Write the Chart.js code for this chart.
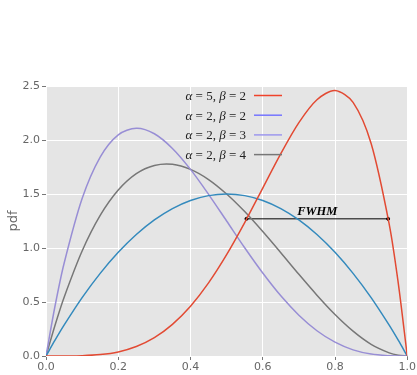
<!DOCTYPE html>
<html>
<head>
<meta charset="utf-8">
<script src="https://cdn.jsdelivr.net/npm/chart.js@4"></script>
<style>
  html, body { margin: 0; padding: 0; background: #fff; }
  #wrap { width: 417px; height: 375px; position: relative; }
</style>
</head>
<body>
<div id="wrap"><canvas id="beta"></canvas></div>
<script>
// x positions the curves were read at
const xs = [0, 0.025, 0.05, 0.1, 0.15, 0.2, 0.25, 0.3, 0.35, 0.4, 0.45, 0.5,
  0.55, 0.6, 0.65, 0.7, 0.75, 0.8, 0.85, 0.9, 0.95, 0.975, 1];

// pdf values
const a5b2 = [0, 0, 0.0002, 0.0027, 0.013, 0.038, 0.088, 0.17, 0.293, 0.461, 0.677, 0.938,
  1.235, 1.555, 1.874, 2.161, 2.373, 2.458, 2.349, 1.968, 1.222, 0.678, 0];
const a2b2 = [0, 0.146, 0.285, 0.54, 0.765, 0.96, 1.125, 1.26, 1.365, 1.44, 1.485, 1.5,
  1.485, 1.44, 1.365, 1.26, 1.125, 0.96, 0.765, 0.54, 0.285, 0.146, 0];
const a2b3 = [0, 0.463, 0.857, 1.458, 1.842, 2.048, 2.109, 2.058, 1.922, 1.728, 1.497, 1.25,
  1.002, 0.768, 0.557, 0.378, 0.234, 0.128, 0.057, 0.018, 0.002, 0.0003, 0];
const a2b4 = [0, 0.285, 0.542, 0.972, 1.301, 1.536, 1.688, 1.764, 1.775, 1.728, 1.634, 1.5,
  1.337, 1.152, 0.956, 0.756, 0.563, 0.384, 0.23, 0.108, 0.029, 0.007, 0];

const labels = [["5", "2"], ["2", "2"], ["2", "3"], ["2", "4"]];
const lineColors = ["#E24A33", "#348ABD", "#988ED5", "#777777"];
const legendColors = ["#F0432A", "#7575FF", "#9D98EE", "#777777"];

// FWHM marker
const fwhmX = [0.555, 0.947];
const fwhmY = 1.27;

const pts = (ys) => xs.map((x, i) => ({ x: x, y: ys[i] }));

const series = [a5b2, a2b2, a2b3, a2b4].map((ys, i) => ({
  data: pts(ys),
  borderColor: lineColors[i],
  borderWidth: 1.5,
  pointRadius: 0,
  tension: 0.3,
  fill: false,
}));

series.push({
  data: fwhmX.map((x) => ({ x: x, y: fwhmY })),
  borderColor: "#000",
  backgroundColor: "#000",
  borderWidth: 1,
  pointRadius: 1.5,
  pointHoverRadius: 1.5,
});

const panel = {
  id: "panel",
  beforeDraw(chart) {
    const { ctx, chartArea: a } = chart;
    ctx.save();
    ctx.fillStyle = "#E5E5E5";
    ctx.fillRect(a.left, a.top, a.right - a.left, a.bottom - a.top);
    ctx.restore();
  },
  afterDatasetsDraw(chart) {
    const { ctx, scales } = chart;
    ctx.save();
    // FWHM text
    ctx.fillStyle = "#000";
    ctx.font = "italic bold 12.5px 'Liberation Serif', 'DejaVu Serif', serif";
    ctx.textAlign = "center";
    ctx.textBaseline = "alphabetic";
    const mx = scales.x.getPixelForValue((fwhmX[0] + fwhmX[1]) / 2);
    ctx.fillText("FWHM", mx, scales.y.getPixelForValue(fwhmY) - 4);

    // legend: text then line sample
    const it = "italic 13px 'Liberation Serif', 'DejaVu Serif', serif";
    const up = "13px 'Liberation Serif', 'DejaVu Serif', serif";
    labels.forEach((l, i) => {
      const y = 100 + i * 19.7;
      const parts = [["α", it], [" = " + l[0] + ", ", up], ["β", it], [" = " + l[1], up]];
      let w = 0;
      parts.forEach((p) => { ctx.font = p[1]; w += ctx.measureText(p[0]).width; });
      let x = 246 - w;
      ctx.textAlign = "left";
      ctx.fillStyle = "#222";
      parts.forEach((p) => {
        ctx.font = p[1];
        ctx.fillText(p[0], x, y);
        x += ctx.measureText(p[0]).width;
      });
      ctx.strokeStyle = legendColors[i];
      ctx.lineWidth = 1.5;
      ctx.beginPath();
      ctx.moveTo(254, y - 4.5);
      ctx.lineTo(282, y - 4.5);
      ctx.stroke();
    });
    ctx.restore();
  },
};

const tickFont = { family: "'DejaVu Sans', sans-serif", size: 11 };

new Chart(document.getElementById("beta"), {
  type: "line",
  data: { datasets: series },
  options: {
    responsive: true,
    maintainAspectRatio: false,
    animation: false,
    layout: { padding: { left: 0, top: 86, right: 9, bottom: 0 } },
    plugins: { legend: { display: false }, tooltip: { enabled: false } },
    scales: {
      x: {
        type: "linear",
        min: 0,
        max: 1,
        ticks: {
          stepSize: 0.2,
          color: "#666",
          font: tickFont,
          padding: 1,
          callback: (v) => v.toFixed(1),
        },
        grid: { color: "#fff", lineWidth: 1, tickLength: 4, tickColor: "#777" },
        border: { display: false },
        afterFit(s) { s.height = 19; },
      },
      y: {
        min: 0,
        max: 2.5,
        ticks: {
          stepSize: 0.5,
          color: "#666",
          font: tickFont,
          padding: 2,
          callback: (v) => v.toFixed(1),
        },
        grid: { color: "#fff", lineWidth: 1, tickLength: 4, tickColor: "#777" },
        border: { display: false },
        title: {
          display: true,
          text: "pdf",
          color: "#666",
          font: { family: "'DejaVu Sans', sans-serif", size: 13 },
          padding: { top: 6, bottom: 2 },
        },
        afterFit(s) { s.width = 46; },
      },
    },
  },
  plugins: [panel],
});
</script>
</body>
</html>
